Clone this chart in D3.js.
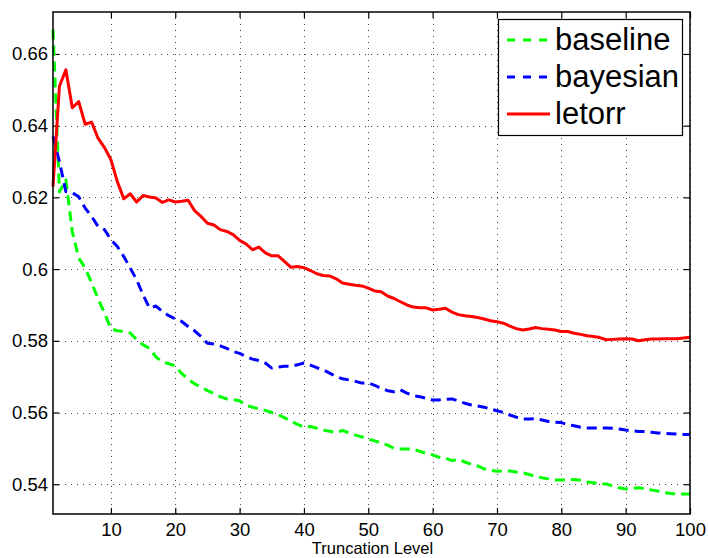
<!DOCTYPE html>
<html>
<head>
<meta charset="utf-8">
<script src="https://cdn.jsdelivr.net/npm/d3@7"></script>
<style>
  html, body { margin: 0; padding: 0; background: #fff; }
  svg { display: block; font-family: "Liberation Sans", Arial, Helvetica, sans-serif; }
</style>
</head>
<body>
<svg id="chart" width="708" height="558"></svg>
<script>
// ---- data ----
const truncationLevels = d3.range(1, 101);

const baseline = [
  0.6668, 0.6215, 0.6249, 0.6104, 0.6031, 0.6003, 0.5962, 0.5917, 0.5878, 0.5833,
  0.5828, 0.5826, 0.5822, 0.5803, 0.5789, 0.5779, 0.5755, 0.5741, 0.5736, 0.5730,
  0.5709, 0.5693, 0.5680, 0.5671, 0.5661, 0.5653, 0.5644, 0.5638, 0.5636, 0.5633,
  0.5620, 0.5615, 0.5610, 0.5606, 0.5600, 0.5594, 0.5585, 0.5576, 0.5567, 0.5559,
  0.5561, 0.5556, 0.5551, 0.5548, 0.5544, 0.5550, 0.5543, 0.5537, 0.5532, 0.5526,
  0.5521, 0.5515, 0.5509, 0.5500, 0.5498, 0.5498, 0.5498, 0.5492, 0.5486, 0.5482,
  0.5475, 0.5473, 0.5466, 0.5469, 0.5462, 0.5456, 0.5451, 0.5443, 0.5439, 0.5436,
  0.5437, 0.5437, 0.5434, 0.5432, 0.5427, 0.5422, 0.5418, 0.5415, 0.5412, 0.5412,
  0.5413, 0.5413, 0.5411, 0.5406, 0.5404, 0.5401, 0.5401, 0.5395, 0.5390, 0.5387,
  0.5388, 0.5390, 0.5388, 0.5384, 0.5381, 0.5377, 0.5374, 0.5373, 0.5373, 0.5373
];

const bayesian = [
  0.6370, 0.6300, 0.6216, 0.6213, 0.6202, 0.6170, 0.6147, 0.6119, 0.6110, 0.6082,
  0.6063, 0.6035, 0.6003, 0.5970, 0.5928, 0.5891, 0.5897, 0.5882, 0.5870, 0.5861,
  0.5854, 0.5840, 0.5828, 0.5812, 0.5793, 0.5791, 0.5786, 0.5779, 0.5770, 0.5765,
  0.5756, 0.5749, 0.5745, 0.5738, 0.5724, 0.5727, 0.5729, 0.5729, 0.5733, 0.5738,
  0.5732, 0.5725, 0.5719, 0.5710, 0.5700, 0.5694, 0.5691, 0.5687, 0.5682, 0.5683,
  0.5676, 0.5667, 0.5661, 0.5658, 0.5663, 0.5654, 0.5647, 0.5644, 0.5640, 0.5635,
  0.5635, 0.5637, 0.5638, 0.5632, 0.5626, 0.5621, 0.5618, 0.5615, 0.5610, 0.5605,
  0.5600, 0.5593, 0.5587, 0.5582, 0.5582, 0.5583, 0.5579, 0.5575, 0.5573, 0.5572,
  0.5566, 0.5563, 0.5559, 0.5557, 0.5557, 0.5557, 0.5557, 0.5556, 0.5554, 0.5551,
  0.5549, 0.5547, 0.5547, 0.5545, 0.5543, 0.5542, 0.5541, 0.5540, 0.5539, 0.5539
];

const letorr = [
  0.6230, 0.6510, 0.6556, 0.6450, 0.6467, 0.6404, 0.6410, 0.6365, 0.6339, 0.6305,
  0.6244, 0.6196, 0.6210, 0.6187, 0.6205, 0.6201, 0.6198, 0.6186, 0.6193, 0.6187,
  0.6189, 0.6192, 0.6163, 0.6147, 0.6128, 0.6123, 0.6110, 0.6105, 0.6096, 0.6080,
  0.6070, 0.6054, 0.6061, 0.6045, 0.6037, 0.6037, 0.6021, 0.6005, 0.6007, 0.6004,
  0.5996, 0.5987, 0.5982, 0.5981, 0.5973, 0.5961, 0.5958, 0.5955, 0.5953, 0.5947,
  0.5939, 0.5937, 0.5925, 0.5918, 0.5909, 0.5900, 0.5894, 0.5892, 0.5892, 0.5886,
  0.5888, 0.5891, 0.5880, 0.5873, 0.5870, 0.5868, 0.5865, 0.5861, 0.5856, 0.5853,
  0.5849, 0.5841, 0.5834, 0.5830, 0.5833, 0.5837, 0.5834, 0.5832, 0.5830, 0.5826,
  0.5826, 0.5821, 0.5818, 0.5814, 0.5812, 0.5809, 0.5803, 0.5804, 0.5805, 0.5806,
  0.5805, 0.5800, 0.5803, 0.5805, 0.5805, 0.5806, 0.5806, 0.5806, 0.5808, 0.5810
];

const seriesNames = ["baseline", "bayesian", "letorr"];
const seriesColors = ["#00ff00", "#0000ff", "#ff0000"];
const seriesDashed = [true, true, false];

const xTicks = [10, 20, 30, 40, 50, 60, 70, 80, 90, 100];
const yTicks = [0.54, 0.56, 0.58, 0.60, 0.62, 0.64, 0.66];
const yTickLabels = ["0.54", "0.56", "0.58", "0.6", "0.62", "0.64", "0.66"];
const xLabel = "Truncation Level";

// ---- layout ----
(function draw() {
  const svg = d3.select("#chart");
  const L = 53, T = 12, R = 690, B = 514;

  const x = d3.scaleLinear().domain([1, 100]).range([L, R]);
  const y = d3.scaleLinear().domain([0.5317, 0.6717]).range([B, T]);

  // grid
  const grid = svg.append("g").attr("stroke", "#444").attr("stroke-width", 1)
    .attr("stroke-dasharray", "1,5");
  grid.selectAll(".vg").data(xTicks).join("line").attr("class", "vg")
    .attr("x1", d => Math.round(x(d)) + 0.5).attr("x2", d => Math.round(x(d)) + 0.5)
    .attr("y1", T).attr("y2", B);
  grid.selectAll(".hg").data(yTicks).join("line").attr("class", "hg")
    .attr("y1", d => Math.round(y(d)) + 0.5).attr("y2", d => Math.round(y(d)) + 0.5)
    .attr("x1", L).attr("x2", R);

  // axes
  const fontSize = 18.5;
  const axBottom = svg.append("g").attr("transform", `translate(0,${B})`)
    .call(d3.axisBottom(x).tickValues(xTicks).tickSize(-6).tickPadding(8.5));
  const axTop = svg.append("g").attr("transform", `translate(0,${T})`)
    .call(d3.axisTop(x).tickValues(xTicks).tickSize(-6).tickFormat(""));
  const axLeft = svg.append("g").attr("transform", `translate(${L},0)`)
    .call(d3.axisLeft(y).tickValues(yTicks).tickSize(-6).tickPadding(5)
      .tickFormat((d, i) => yTickLabels[i]));
  const axRight = svg.append("g").attr("transform", `translate(${R},0)`)
    .call(d3.axisRight(y).tickValues(yTicks).tickSize(-6).tickFormat(""));

  [axBottom, axTop, axLeft, axRight].forEach(g => {
    g.select(".domain").remove();
    g.selectAll(".tick line").attr("stroke", "#000").attr("stroke-width", 1.2);
    g.selectAll(".tick text").attr("font-size", fontSize)
      .attr("font-family", "Liberation Sans, Arial, sans-serif").attr("fill", "#000");
  });

  // lines
  const seriesData = [baseline, bayesian, letorr];
  const line = d3.line().x((d, i) => x(truncationLevels[i])).y(d => y(d));
  seriesData.forEach((vals, k) => {
    svg.append("path").datum(vals)
      .attr("fill", "none")
      .attr("stroke", seriesColors[k])
      .attr("stroke-width", 3)
      .attr("stroke-linejoin", "round")
      .attr("stroke-dasharray", seriesDashed[k] ? "10,6" : null)
      .attr("d", line);
  });

  // box
  svg.append("rect").attr("x", L).attr("y", T).attr("width", R - L).attr("height", B - T)
    .attr("fill", "none").attr("stroke", "#000").attr("stroke-width", 1.5);

  // x label
  svg.append("text").attr("x", (L + R) / 2 + 1).attr("y", 554.4)
    .attr("text-anchor", "middle").attr("font-size", 16.5).attr("fill", "#000")
    .text(xLabel);

  // legend
  const lg = svg.append("g");
  lg.append("rect").attr("x", 498.5).attr("y", 19.5).attr("width", 184).attr("height", 116)
    .attr("fill", "#fff").attr("stroke", "#000").attr("stroke-width", 1.2);
  const rowY = [40, 77, 114];
  seriesNames.forEach((name, k) => {
    lg.append("line").attr("x1", 507).attr("x2", 550)
      .attr("y1", rowY[k]).attr("y2", rowY[k])
      .attr("stroke", seriesColors[k]).attr("stroke-width", 3)
      .attr("stroke-dasharray", seriesDashed[k] ? "8,8" : null);
    lg.append("text").attr("x", 555).attr("y", rowY[k] + 10)
      .attr("font-size", 31).attr("fill", "#000").text(name);
  });
})();
</script>
</body>
</html>
